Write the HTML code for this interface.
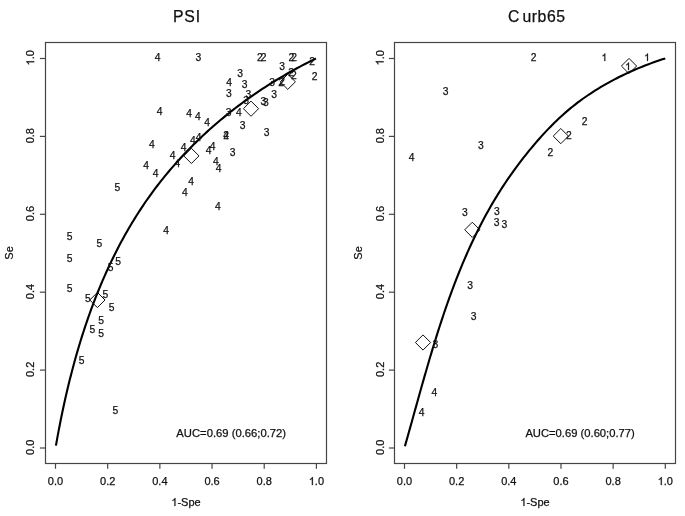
<!DOCTYPE html>
<html><head><meta charset="utf-8"><style>
html,body{margin:0;padding:0;background:#fff;}
svg{display:block;will-change:transform;}
text{font-family:"Liberation Sans",sans-serif;fill:#111;stroke:#111;stroke-width:0.25px;}
.g{fill:#111;stroke:#111;stroke-width:0.25px;}
</style></head><body>
<svg width="685" height="516" viewBox="0 0 685 516">
<rect width="685" height="516" fill="#fff"/>
<rect x="45.5" y="42.5" width="281.00" height="421.00" fill="none" stroke="#454545" stroke-width="1.2"/>
<line x1="55.50" y1="463.5" x2="55.50" y2="468.8" stroke="#454545" stroke-width="1.2"/>
<line x1="45.5" y1="448.00" x2="39.9" y2="448.00" stroke="#454545" stroke-width="1.2"/>
<text x="55.50" y="485.44" font-size="11" text-anchor="middle" >0.0</text>
<g transform="translate(30.05,447.30) rotate(-90)"><text x="0.00" y="4.14" font-size="11" text-anchor="middle" >0.0</text></g>
<line x1="107.68" y1="463.5" x2="107.68" y2="468.8" stroke="#454545" stroke-width="1.2"/>
<line x1="45.5" y1="370.10" x2="39.9" y2="370.10" stroke="#454545" stroke-width="1.2"/>
<text x="107.68" y="485.44" font-size="11" text-anchor="middle" >0.2</text>
<g transform="translate(30.05,369.40) rotate(-90)"><text x="0.00" y="4.14" font-size="11" text-anchor="middle" >0.2</text></g>
<line x1="159.86" y1="463.5" x2="159.86" y2="468.8" stroke="#454545" stroke-width="1.2"/>
<line x1="45.5" y1="292.20" x2="39.9" y2="292.20" stroke="#454545" stroke-width="1.2"/>
<text x="159.86" y="485.44" font-size="11" text-anchor="middle" >0.4</text>
<g transform="translate(30.05,291.50) rotate(-90)"><text x="0.00" y="4.14" font-size="11" text-anchor="middle" >0.4</text></g>
<line x1="212.04" y1="463.5" x2="212.04" y2="468.8" stroke="#454545" stroke-width="1.2"/>
<line x1="45.5" y1="214.30" x2="39.9" y2="214.30" stroke="#454545" stroke-width="1.2"/>
<text x="212.04" y="485.44" font-size="11" text-anchor="middle" >0.6</text>
<g transform="translate(30.05,213.60) rotate(-90)"><text x="0.00" y="4.14" font-size="11" text-anchor="middle" >0.6</text></g>
<line x1="264.22" y1="463.5" x2="264.22" y2="468.8" stroke="#454545" stroke-width="1.2"/>
<line x1="45.5" y1="136.40" x2="39.9" y2="136.40" stroke="#454545" stroke-width="1.2"/>
<text x="264.22" y="485.44" font-size="11" text-anchor="middle" >0.8</text>
<g transform="translate(30.05,135.70) rotate(-90)"><text x="0.00" y="4.14" font-size="11" text-anchor="middle" >0.8</text></g>
<line x1="316.40" y1="463.5" x2="316.40" y2="468.8" stroke="#454545" stroke-width="1.2"/>
<line x1="45.5" y1="58.50" x2="39.9" y2="58.50" stroke="#454545" stroke-width="1.2"/>
<polygon points="312.85,485.00 311.89,485.00 311.89,478.84 311.54,479.17 310.97,479.51 310.40,479.84 309.95,480.00 309.95,479.07 310.76,478.69 311.37,478.15 311.98,477.60 312.23,477.09 312.85,477.09" class="g"/><text x="314.87" y="485.44" font-size="11">.</text><text x="317.93" y="485.44" font-size="11">0</text>
<g transform="translate(30.05,57.80) rotate(-90)"><polygon points="-3.55,4.14 -4.51,4.14 -4.51,-2.02 -4.86,-1.69 -5.43,-1.36 -6.00,-1.02 -6.45,-0.86 -6.45,-1.79 -5.64,-2.17 -5.03,-2.72 -4.42,-3.26 -4.17,-3.77 -3.55,-3.77" class="g"/><text x="-1.53" y="4.14" font-size="11">.</text><text x="1.53" y="4.14" font-size="11">0</text></g>
<text x="172.9" y="21.9" font-size="15.8" letter-spacing="0.85">PSI</text>
<polygon points="175.42,506.00 174.46,506.00 174.46,499.84 174.11,500.17 173.54,500.51 172.97,500.84 172.52,501.00 172.52,500.07 173.33,499.69 173.94,499.15 174.55,498.60 174.80,498.09 175.42,498.09" class="g"/><text x="177.44" y="506.14" font-size="11">-</text><text x="181.11" y="506.14" font-size="11">S</text><text x="188.44" y="506.14" font-size="11">p</text><text x="194.56" y="506.14" font-size="11">e</text>
<g transform="translate(9.10,252.9) rotate(-90)"><text x="0.00" y="4.14" font-size="11" text-anchor="middle" >Se</text></g>
<text x="176.3" y="437.44" font-size="11" textLength="109.8" lengthAdjust="spacingAndGlyphs">AUC=0.69 (0.66;0.72)</text>
<polyline points="55.94,445.59 56.46,442.61 57.00,439.62 57.54,436.64 58.09,433.65 58.65,430.67 59.22,427.68 59.80,424.69 60.39,421.70 60.99,418.71 61.60,415.72 62.22,412.73 62.85,409.73 63.50,406.74 64.15,403.75 64.81,400.76 65.48,397.77 66.16,394.78 66.86,391.79 67.56,388.80 68.28,385.82 69.01,382.83 69.75,379.85 70.50,376.87 71.26,373.89 72.03,370.91 72.82,367.94 73.62,364.97 74.43,362.00 75.25,359.03 76.08,356.07 76.93,353.11 77.79,350.15 78.66,347.20 79.55,344.25 80.45,341.30 81.36,338.36 82.29,335.43 83.23,332.49 84.18,329.57 85.14,326.64 86.12,323.73 87.12,320.81 88.12,317.91 89.15,315.00 90.18,312.11 91.23,309.22 92.30,306.33 93.38,303.46 94.47,300.59 95.58,297.72 96.71,294.86 97.85,292.01 99.00,289.17 100.17,286.33 101.36,283.51 102.56,280.68 103.78,277.87 105.01,275.07 106.26,272.27 107.52,269.48 108.81,266.70 110.10,263.93 111.42,261.17 112.75,258.42 114.10,255.67 115.46,252.94 116.85,250.21 118.24,247.50 119.66,244.80 121.09,242.10 122.55,239.42 124.02,236.74 125.50,234.08 127.01,231.43 128.53,228.79 130.07,226.16 131.63,223.54 133.21,220.93 134.80,218.34 136.42,215.76 138.05,213.19 139.70,210.63 141.37,208.08 143.06,205.55 144.77,203.03 146.50,200.52 148.25,198.03 150.02,195.55 151.81,193.08 153.62,190.63 155.44,188.19 157.29,185.76 159.16,183.35 161.04,180.95 162.94,178.57 164.87,176.20 166.81,173.85 168.77,171.50 170.74,169.18 172.74,166.86 174.75,164.57 176.78,162.28 178.83,160.02 180.90,157.76 182.98,155.52 185.08,153.30 187.19,151.09 189.33,148.89 191.48,146.71 193.64,144.55 195.82,142.40 198.02,140.27 200.23,138.15 202.46,136.05 204.70,133.96 206.96,131.89 209.24,129.83 211.52,127.79 213.83,125.77 216.14,123.76 218.48,121.76 220.82,119.79 223.18,117.83 225.56,115.88 227.94,113.95 230.34,112.04 232.76,110.15 235.19,108.27 237.62,106.40 240.08,104.56 242.54,102.73 245.02,100.92 247.51,99.12 250.01,97.34 252.52,95.58 255.05,93.83 257.59,92.11 260.13,90.40 262.69,88.70 265.26,87.03 267.84,85.37 270.43,83.73 273.04,82.10 275.65,80.50 278.27,78.91 280.90,77.34 283.54,75.78 286.20,74.25 288.86,72.73 291.53,71.23 294.20,69.75 296.89,68.29 299.59,66.84 302.29,65.42 305.01,64.01 307.73,62.62 310.46,61.25 313.19,59.90 315.94,58.57" fill="none" stroke="#000" stroke-width="2.1"/>
<text x="157.60" y="61.39" font-size="10.3" text-anchor="middle" >4</text>
<text x="159.70" y="114.59" font-size="10.3" text-anchor="middle" >4</text>
<text x="189.10" y="116.99" font-size="10.3" text-anchor="middle" >4</text>
<text x="197.90" y="120.39" font-size="10.3" text-anchor="middle" >4</text>
<text x="229.20" y="86.49" font-size="10.3" text-anchor="middle" >4</text>
<text x="238.90" y="115.89" font-size="10.3" text-anchor="middle" >4</text>
<text x="207.00" y="125.89" font-size="10.3" text-anchor="middle" >4</text>
<text x="151.80" y="147.79" font-size="10.3" text-anchor="middle" >4</text>
<text x="146.10" y="168.59" font-size="10.3" text-anchor="middle" >4</text>
<text x="155.60" y="176.59" font-size="10.3" text-anchor="middle" >4</text>
<text x="172.70" y="158.59" font-size="10.3" text-anchor="middle" >4</text>
<text x="183.60" y="150.89" font-size="10.3" text-anchor="middle" >4</text>
<text x="192.80" y="143.99" font-size="10.3" text-anchor="middle" >4</text>
<text x="198.50" y="141.19" font-size="10.3" text-anchor="middle" >4</text>
<text x="177.30" y="166.69" font-size="10.3" text-anchor="middle" >4</text>
<text x="208.60" y="153.89" font-size="10.3" text-anchor="middle" >4</text>
<text x="212.70" y="149.89" font-size="10.3" text-anchor="middle" >4</text>
<text x="215.80" y="164.99" font-size="10.3" text-anchor="middle" >4</text>
<text x="218.70" y="171.69" font-size="10.3" text-anchor="middle" >4</text>
<text x="191.10" y="184.89" font-size="10.3" text-anchor="middle" >4</text>
<text x="184.90" y="195.89" font-size="10.3" text-anchor="middle" >4</text>
<text x="217.80" y="209.59" font-size="10.3" text-anchor="middle" >4</text>
<text x="166.00" y="234.19" font-size="10.3" text-anchor="middle" >4</text>
<text x="226.20" y="138.89" font-size="10.3" text-anchor="middle" >4</text>
<text x="198.40" y="61.19" font-size="10.3" text-anchor="middle" >3</text>
<text x="240.00" y="77.19" font-size="10.3" text-anchor="middle" >3</text>
<text x="244.70" y="87.69" font-size="10.3" text-anchor="middle" >3</text>
<text x="282.10" y="70.19" font-size="10.3" text-anchor="middle" >3</text>
<text x="228.80" y="96.59" font-size="10.3" text-anchor="middle" >3</text>
<text x="248.40" y="97.89" font-size="10.3" text-anchor="middle" >3</text>
<text x="246.00" y="104.39" font-size="10.3" text-anchor="middle" >3</text>
<text x="228.50" y="115.69" font-size="10.3" text-anchor="middle" >3</text>
<text x="272.00" y="86.39" font-size="10.3" text-anchor="middle" >3</text>
<text x="274.20" y="98.09" font-size="10.3" text-anchor="middle" >3</text>
<text x="263.40" y="105.19" font-size="10.3" text-anchor="middle" >3</text>
<text x="265.80" y="106.39" font-size="10.3" text-anchor="middle" >3</text>
<text x="242.50" y="128.69" font-size="10.3" text-anchor="middle" >3</text>
<text x="266.70" y="135.59" font-size="10.3" text-anchor="middle" >3</text>
<text x="232.70" y="155.59" font-size="10.3" text-anchor="middle" >3</text>
<text x="291.00" y="76.29" font-size="10.3" text-anchor="middle" >2</text>
<text x="259.80" y="61.29" font-size="10.3" text-anchor="middle" >2</text>
<text x="263.60" y="61.29" font-size="10.3" text-anchor="middle" >2</text>
<text x="291.40" y="61.09" font-size="10.3" text-anchor="middle" >2</text>
<text x="294.10" y="61.09" font-size="10.3" text-anchor="middle" >2</text>
<text x="312.10" y="64.79" font-size="10.3" text-anchor="middle" >2</text>
<text x="293.80" y="79.39" font-size="10.3" text-anchor="middle" >2</text>
<text x="314.50" y="79.59" font-size="10.3" text-anchor="middle" >2</text>
<text x="281.20" y="85.99" font-size="10.3" text-anchor="middle" >2</text>
<text x="282.20" y="85.49" font-size="10.3" text-anchor="middle" >2</text>
<text x="226.20" y="138.89" font-size="10.3" text-anchor="middle" >2</text>
<text x="117.30" y="190.99" font-size="10.3" text-anchor="middle" >5</text>
<text x="69.70" y="239.79" font-size="10.3" text-anchor="middle" >5</text>
<text x="99.30" y="247.39" font-size="10.3" text-anchor="middle" >5</text>
<text x="69.70" y="261.99" font-size="10.3" text-anchor="middle" >5</text>
<text x="118.00" y="265.29" font-size="10.3" text-anchor="middle" >5</text>
<text x="110.60" y="270.79" font-size="10.3" text-anchor="middle" >5</text>
<text x="69.70" y="291.69" font-size="10.3" text-anchor="middle" >5</text>
<text x="105.40" y="297.89" font-size="10.3" text-anchor="middle" >5</text>
<text x="87.80" y="302.49" font-size="10.3" text-anchor="middle" >5</text>
<text x="111.60" y="310.89" font-size="10.3" text-anchor="middle" >5</text>
<text x="101.20" y="324.09" font-size="10.3" text-anchor="middle" >5</text>
<text x="92.30" y="333.29" font-size="10.3" text-anchor="middle" >5</text>
<text x="101.10" y="336.99" font-size="10.3" text-anchor="middle" >5</text>
<text x="81.50" y="364.09" font-size="10.3" text-anchor="middle" >5</text>
<text x="115.30" y="413.79" font-size="10.3" text-anchor="middle" >5</text>
<path d="M97.40,292.40 L105.00,300.00 L97.40,307.60 L89.80,300.00 Z" fill="none" stroke="#111" stroke-width="1.0"/>
<path d="M191.40,148.30 L199.00,155.90 L191.40,163.50 L183.80,155.90 Z" fill="none" stroke="#111" stroke-width="1.0"/>
<path d="M251.00,101.10 L258.60,108.70 L251.00,116.30 L243.40,108.70 Z" fill="none" stroke="#111" stroke-width="1.0"/>
<path d="M287.80,74.20 L295.40,81.80 L287.80,89.40 L280.20,81.80 Z" fill="none" stroke="#111" stroke-width="1.0"/>
<rect x="394.5" y="42.5" width="281.00" height="421.00" fill="none" stroke="#454545" stroke-width="1.2"/>
<line x1="404.50" y1="463.5" x2="404.50" y2="468.8" stroke="#454545" stroke-width="1.2"/>
<line x1="394.5" y1="448.00" x2="388.9" y2="448.00" stroke="#454545" stroke-width="1.2"/>
<text x="404.50" y="485.44" font-size="11" text-anchor="middle" >0.0</text>
<g transform="translate(379.50,447.30) rotate(-90)"><text x="0.00" y="4.14" font-size="11" text-anchor="middle" >0.0</text></g>
<line x1="456.66" y1="463.5" x2="456.66" y2="468.8" stroke="#454545" stroke-width="1.2"/>
<line x1="394.5" y1="370.10" x2="388.9" y2="370.10" stroke="#454545" stroke-width="1.2"/>
<text x="456.66" y="485.44" font-size="11" text-anchor="middle" >0.2</text>
<g transform="translate(379.50,369.40) rotate(-90)"><text x="0.00" y="4.14" font-size="11" text-anchor="middle" >0.2</text></g>
<line x1="508.82" y1="463.5" x2="508.82" y2="468.8" stroke="#454545" stroke-width="1.2"/>
<line x1="394.5" y1="292.20" x2="388.9" y2="292.20" stroke="#454545" stroke-width="1.2"/>
<text x="508.82" y="485.44" font-size="11" text-anchor="middle" >0.4</text>
<g transform="translate(379.50,291.50) rotate(-90)"><text x="0.00" y="4.14" font-size="11" text-anchor="middle" >0.4</text></g>
<line x1="560.98" y1="463.5" x2="560.98" y2="468.8" stroke="#454545" stroke-width="1.2"/>
<line x1="394.5" y1="214.30" x2="388.9" y2="214.30" stroke="#454545" stroke-width="1.2"/>
<text x="560.98" y="485.44" font-size="11" text-anchor="middle" >0.6</text>
<g transform="translate(379.50,213.60) rotate(-90)"><text x="0.00" y="4.14" font-size="11" text-anchor="middle" >0.6</text></g>
<line x1="613.14" y1="463.5" x2="613.14" y2="468.8" stroke="#454545" stroke-width="1.2"/>
<line x1="394.5" y1="136.40" x2="388.9" y2="136.40" stroke="#454545" stroke-width="1.2"/>
<text x="613.14" y="485.44" font-size="11" text-anchor="middle" >0.8</text>
<g transform="translate(379.50,135.70) rotate(-90)"><text x="0.00" y="4.14" font-size="11" text-anchor="middle" >0.8</text></g>
<line x1="665.30" y1="463.5" x2="665.30" y2="468.8" stroke="#454545" stroke-width="1.2"/>
<line x1="394.5" y1="58.50" x2="388.9" y2="58.50" stroke="#454545" stroke-width="1.2"/>
<polygon points="661.75,485.00 660.79,485.00 660.79,478.84 660.44,479.17 659.87,479.51 659.30,479.84 658.85,480.00 658.85,479.07 659.66,478.69 660.27,478.15 660.88,477.60 661.13,477.09 661.75,477.09" class="g"/><text x="663.77" y="485.44" font-size="11">.</text><text x="666.83" y="485.44" font-size="11">0</text>
<g transform="translate(379.50,57.80) rotate(-90)"><polygon points="-3.55,4.14 -4.51,4.14 -4.51,-2.02 -4.86,-1.69 -5.43,-1.36 -6.00,-1.02 -6.45,-0.86 -6.45,-1.79 -5.64,-2.17 -5.03,-2.72 -4.42,-3.26 -4.17,-3.77 -3.55,-3.77" class="g"/><text x="-1.53" y="4.14" font-size="11">.</text><text x="1.53" y="4.14" font-size="11">0</text></g>
<text x="507.9" y="21.9" font-size="15.8" letter-spacing="0.55">C<tspan dx="2.6">urb65</tspan></text>
<polygon points="524.42,506.00 523.46,506.00 523.46,499.84 523.11,500.17 522.54,500.51 521.97,500.84 521.52,501.00 521.52,500.07 522.33,499.69 522.94,499.15 523.55,498.60 523.80,498.09 524.42,498.09" class="g"/><text x="526.44" y="506.14" font-size="11">-</text><text x="530.11" y="506.14" font-size="11">S</text><text x="537.44" y="506.14" font-size="11">p</text><text x="543.56" y="506.14" font-size="11">e</text>
<g transform="translate(358.10,252.9) rotate(-90)"><text x="0.00" y="4.14" font-size="11" text-anchor="middle" >Se</text></g>
<text x="525.4" y="437.44" font-size="11" textLength="109.4" lengthAdjust="spacingAndGlyphs">AUC=0.69 (0.60;0.77)</text>
<polyline points="404.90,446.29 405.74,443.35 406.57,440.41 407.40,437.46 408.23,434.51 409.06,431.55 409.89,428.60 410.71,425.64 411.54,422.68 412.36,419.72 413.19,416.75 414.01,413.79 414.84,410.82 415.67,407.85 416.49,404.88 417.32,401.91 418.15,398.93 418.99,395.96 419.82,392.99 420.66,390.01 421.50,387.04 422.34,384.06 423.18,381.09 424.03,378.11 424.88,375.14 425.74,372.17 426.60,369.19 427.46,366.22 428.33,363.25 429.20,360.28 430.08,357.31 430.97,354.34 431.86,351.38 432.75,348.41 433.65,345.45 434.56,342.49 435.48,339.53 436.40,336.58 437.33,333.63 438.27,330.68 439.21,327.73 440.17,324.79 441.13,321.84 442.10,318.91 443.08,315.97 444.06,313.04 445.06,310.12 446.07,307.20 447.08,304.28 448.11,301.37 449.15,298.46 450.19,295.55 451.25,292.65 452.32,289.76 453.40,286.87 454.50,283.99 455.60,281.11 456.72,278.23 457.85,275.37 458.99,272.51 460.15,269.65 461.31,266.80 462.50,263.96 463.69,261.13 464.90,258.30 466.13,255.48 467.36,252.66 468.62,249.85 469.89,247.05 471.17,244.26 472.47,241.48 473.79,238.70 475.12,235.93 476.47,233.17 477.83,230.42 479.21,227.68 480.61,224.94 482.03,222.22 483.46,219.50 484.91,216.79 486.38,214.09 487.87,211.40 489.38,208.72 490.91,206.05 492.45,203.40 494.02,200.75 495.60,198.11 497.21,195.48 498.83,192.86 500.48,190.25 502.14,187.66 503.83,185.07 505.54,182.50 507.27,179.94 509.02,177.39 510.79,174.85 512.58,172.33 514.38,169.81 516.21,167.31 518.06,164.83 519.92,162.36 521.81,159.90 523.71,157.46 525.63,155.03 527.56,152.61 529.52,150.21 531.49,147.83 533.48,145.46 535.48,143.11 537.50,140.78 539.54,138.46 541.60,136.16 543.68,133.88 545.77,131.63 547.89,129.39 550.03,127.17 552.19,124.98 554.37,122.82 556.57,120.68 558.80,118.56 561.05,116.47 563.33,114.41 565.64,112.38 567.97,110.38 570.32,108.41 572.71,106.47 575.12,104.56 577.56,102.68 580.02,100.84 582.51,99.02 585.03,97.24 587.56,95.49 590.12,93.77 592.70,92.07 595.31,90.41 597.93,88.78 600.57,87.18 603.24,85.61 605.92,84.07 608.62,82.56 611.33,81.08 614.07,79.63 616.82,78.20 619.58,76.81 622.36,75.45 625.15,74.11 627.96,72.81 630.77,71.53 633.60,70.28 636.44,69.06 639.29,67.87 642.15,66.70 645.02,65.57 647.90,64.46 650.79,63.38 653.68,62.33 656.57,61.30 659.48,60.31 662.38,59.34 665.30,58.39" fill="none" stroke="#000" stroke-width="2.1"/>
<polygon points="605.27,61.00 604.37,61.00 604.37,55.23 604.04,55.54 603.51,55.86 602.98,56.17 602.56,56.32 602.56,55.45 603.32,55.09 603.89,54.58 604.45,54.07 604.69,53.60 605.27,53.60" class="g"/>
<polygon points="647.97,61.00 647.07,61.00 647.07,55.23 646.74,55.54 646.21,55.86 645.68,56.17 645.26,56.32 645.26,55.45 646.02,55.09 646.59,54.58 647.15,54.07 647.39,53.60 647.97,53.60" class="g"/>
<polygon points="628.97,70.00 628.07,70.00 628.07,64.23 627.74,64.54 627.21,64.86 626.68,65.17 626.26,65.32 626.26,64.45 627.02,64.09 627.59,63.58 628.15,63.07 628.39,62.60 628.97,62.60" class="g"/>
<text x="533.60" y="61.29" font-size="10.3" text-anchor="middle" >2</text>
<text x="584.70" y="124.79" font-size="10.3" text-anchor="middle" >2</text>
<text x="568.90" y="138.89" font-size="10.3" text-anchor="middle" >2</text>
<text x="550.40" y="156.09" font-size="10.3" text-anchor="middle" >2</text>
<text x="445.70" y="94.69" font-size="10.3" text-anchor="middle" >3</text>
<text x="480.90" y="148.89" font-size="10.3" text-anchor="middle" >3</text>
<text x="464.80" y="215.59" font-size="10.3" text-anchor="middle" >3</text>
<text x="496.90" y="215.19" font-size="10.3" text-anchor="middle" >3</text>
<text x="496.60" y="226.49" font-size="10.3" text-anchor="middle" >3</text>
<text x="504.30" y="228.29" font-size="10.3" text-anchor="middle" >3</text>
<text x="470.20" y="289.29" font-size="10.3" text-anchor="middle" >3</text>
<text x="473.50" y="320.39" font-size="10.3" text-anchor="middle" >3</text>
<text x="435.30" y="348.29" font-size="10.3" text-anchor="middle" >3</text>
<text x="411.60" y="161.09" font-size="10.3" text-anchor="middle" >4</text>
<text x="434.40" y="396.09" font-size="10.3" text-anchor="middle" >4</text>
<text x="421.70" y="416.49" font-size="10.3" text-anchor="middle" >4</text>
<path d="M629.00,58.40 L636.60,66.00 L629.00,73.60 L621.40,66.00 Z" fill="none" stroke="#111" stroke-width="1.0"/>
<path d="M560.80,128.50 L568.40,136.10 L560.80,143.70 L553.20,136.10 Z" fill="none" stroke="#111" stroke-width="1.0"/>
<path d="M472.30,222.20 L479.90,229.80 L472.30,237.40 L464.70,229.80 Z" fill="none" stroke="#111" stroke-width="1.0"/>
<path d="M423.00,334.90 L430.60,342.50 L423.00,350.10 L415.40,342.50 Z" fill="none" stroke="#111" stroke-width="1.0"/>
</svg></body></html>
